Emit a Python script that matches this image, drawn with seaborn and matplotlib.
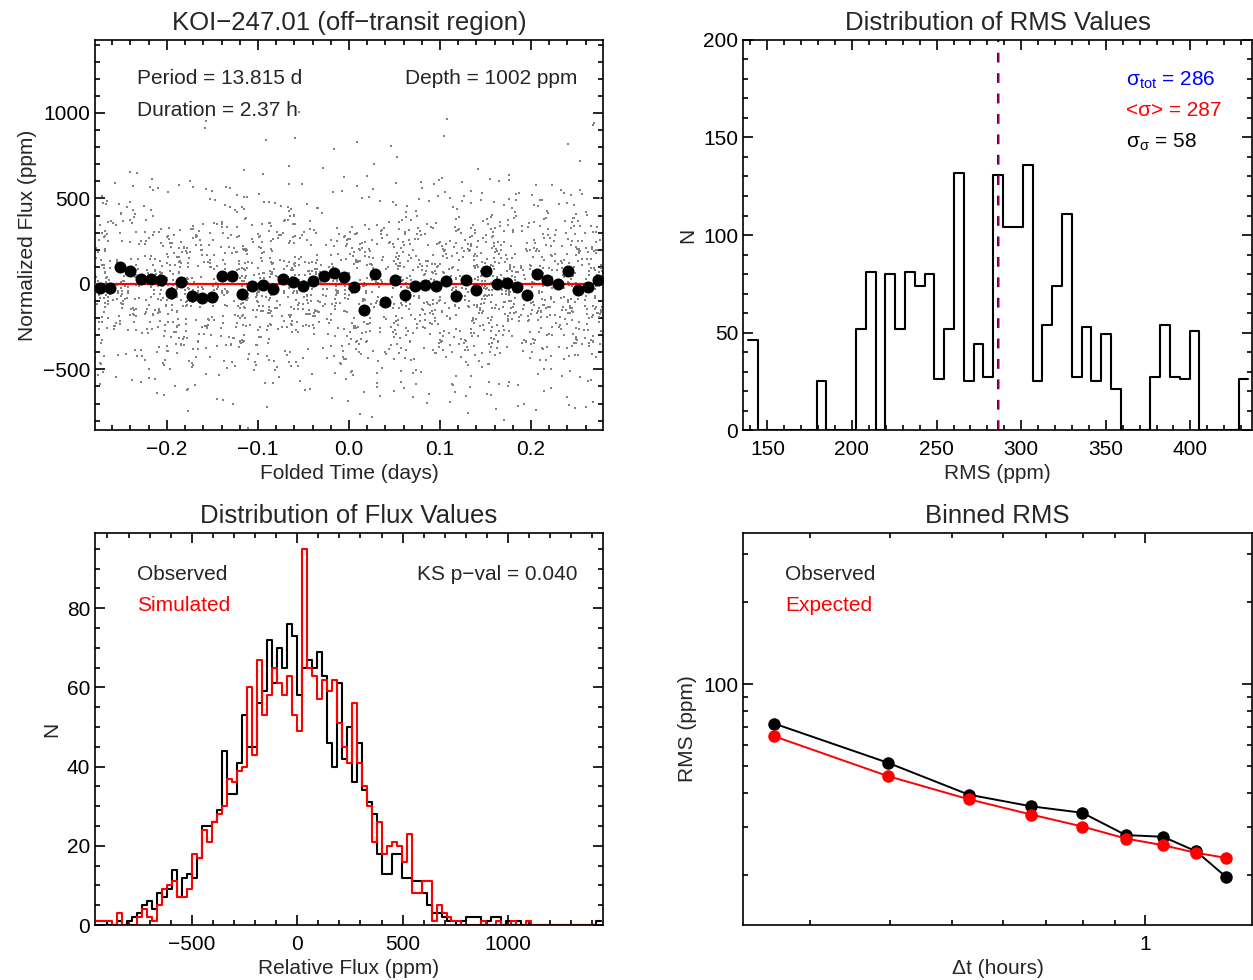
import numpy as np
import pandas as pd
import seaborn as sns
import matplotlib
matplotlib.use('Agg')
import matplotlib.pyplot as plt
from matplotlib.ticker import MultipleLocator, FixedLocator, FixedFormatter, NullFormatter

# ---- data ----
# binned light curve (folded time in days, flux in ppm)
bin_time = [-0.2736, -0.2626, -0.2516, -0.2403, -0.2289, -0.2179, -0.2070, -0.1956, -0.1843, -0.1729,
            -0.1619, -0.1505, -0.1396, -0.1282, -0.1172, -0.1062, -0.0949, -0.0839, -0.0725, -0.0615,
            -0.0502, -0.0392, -0.0278, -0.0165, -0.0055, 0.0059, 0.0168, 0.0282, 0.0392, 0.0502,
            0.0615, 0.0725, 0.0839, 0.0952, 0.1062, 0.1176, 0.1286, 0.1399, 0.1509, 0.1623,
            0.1733, 0.1846, 0.1956, 0.2070, 0.2179, 0.2293, 0.2407, 0.2516, 0.2630, 0.2740]
bin_flux = [-25, -25, 98, 74, 27, 27, 23, -55, 12, -68,
            -82, -76, 49, 45, -59, -12, -8, -27, 31, 12,
            -14, 14, 47, 66, 43, -16, -150, 57, -105, 23,
            -64, -14, -8, -14, 14, -68, 21, -33, 78, -2,
            4, -16, -66, 59, 20, 0, 74, -37, -16, 20]

# distribution of RMS values
rms_start = 138.5
rms_binw = 5.8
rms_counts = [46, 0, 0, 0, 0, 0, 0, 25, 0, 0,
              0, 52, 81, 0, 80, 52, 81, 74, 80, 26,
              52, 132, 25, 44, 27, 131, 104, 104, 136, 25,
              54, 74, 111, 27, 53, 25, 49, 21, 0, 0,
              0, 27, 54, 27, 26, 51, 0, 0, 0, 0, 26]
sigma_tot = 286
sigma_mean = 287
sigma_sigma = 58

# distribution of flux values, bins j = -40 ... 60
flux_binw = 23.65
flux_j0 = -40
obs_counts = [1, 1, 0, 0, 1, 0, 1, 2, 3, 5,
              6, 4, 8, 7, 9, 14, 7, 12, 13, 12,
              17, 25, 25, 26, 29, 44, 33, 33, 41, 53,
              45, 45, 56, 59, 72, 61, 70, 65, 76, 73,
              58, 65, 67, 65, 69, 63, 46, 40, 61, 42,
              50, 36, 46, 34, 31, 28, 18, 13, 13, 18,
              18, 12, 12, 11, 11, 8, 5, 3, 3, 2,
              1, 1, 0, 1, 2, 2, 2, 0, 1, 2,
              2, 0, 1, 0, 1, 0, 0, 0, 0, 0,
              0, 0, 0, 0, 0, 0, 0, 0, 0, 0, 1]
sim_counts = [1, 1, 1, 0, 3, 0, 0, 0, 2, 4,
              2, 1, 5, 9, 10, 11, 7, 7, 9, 18,
              17, 24, 21, 26, 28, 30, 37, 36, 39, 40,
              60, 43, 67, 53, 58, 65, 61, 58, 63, 53,
              49, 95, 65, 63, 57, 62, 59, 62, 51, 45,
              41, 56, 41, 35, 30, 21, 26, 18, 20, 21,
              20, 16, 23, 8, 8, 11, 11, 1, 5, 3,
              2, 1, 1, 0, 0, 0, 0, 1, 0, 0,
              1, 0, 0, 1, 0, 0, 1, 0, 0, 0,
              0, 0, 0, 0, 0, 0, 0, 0, 0, 0, 0]

# binned RMS
dt_hours = [0.264, 0.397, 0.531, 0.665, 0.799, 0.934, 1.068, 1.203, 1.338]
rms_obs = [71.8, 51.6, 39.4, 35.7, 33.8, 28.0, 27.6, 24.4, 19.7]
rms_exp = [64.5, 46.1, 37.9, 33.3, 30.1, 27.2, 25.7, 24.1, 23.1]

# ---- style ----
sns.set_style('ticks')
plt.rcParams['font.family'] = ['Liberation Sans', 'DejaVu Sans']
plt.rcParams['axes.linewidth'] = 1.2
plt.rcParams['axes.edgecolor'] = 'black'
FS = 15
TS = 18.5


def style_axes(ax):
    ax.tick_params(which='both', direction='in', top=True, right=True,
                   labelsize=FS, colors='black', width=1.2)
    ax.tick_params(which='major', length=7)
    ax.tick_params(which='minor', length=3.5)
    ax.tick_params(axis='x', which='both', pad=7)
    for s in ax.spines.values():
        s.set_visible(True)
        s.set_linewidth(1.2)


fig = plt.figure(figsize=(12.53, 9.8), dpi=100)
ax1 = fig.add_axes([0.0758, 0.5612, 0.4054, 0.398])
ax2 = fig.add_axes([0.593, 0.5612, 0.4062, 0.398])
ax3 = fig.add_axes([0.0758, 0.0561, 0.4054, 0.400])
ax4 = fig.add_axes([0.593, 0.0561, 0.4062, 0.400])

# ---- panel 1: folded light curve ----
edges = np.arange(flux_j0, flux_j0 + len(obs_counts) + 1) * flux_binw - 1.4
# point cloud: the observed flux histogram counts, spread over the time window
cloud_flux = np.concatenate([lo + (np.arange(c) + 0.5) / c * flux_binw
                             for lo, c in zip(edges[:-1], obs_counts) if c > 0])
k = np.arange(len(cloud_flux), dtype=float)
frac = (k * k * 0.6180339887 + k * 0.4142135624) % 1.0
cloud = pd.DataFrame({'time': -0.279 + frac * 0.558, 'flux': cloud_flux})
sns.scatterplot(data=cloud, x='time', y='flux', ax=ax1, color='#828282',
                s=2.8, linewidth=0, marker='s')
ax1.axhline(0, color='red', lw=1.6, zorder=3)
binned = pd.DataFrame({'time': bin_time, 'flux': bin_flux})
sns.scatterplot(data=binned, x='time', y='flux', ax=ax1, color='black',
                s=75, linewidth=0, zorder=4)
ax1.set_xlim(-0.279, 0.279)
ax1.set_ylim(-855, 1427)
ax1.xaxis.set_minor_locator(MultipleLocator(0.02))
ax1.yaxis.set_minor_locator(MultipleLocator(100))
ax1.set_xticks([-0.2, -0.1, 0.0, 0.1, 0.2])
ax1.set_xticklabels(['\u22120.2', '\u22120.1', '0.0', '0.1', '0.2'])
ax1.set_yticks([-500, 0, 500, 1000])
ax1.set_yticklabels(['\u2212500', '0', '500', '1000'])
ax1.set_xlabel('Folded Time (days)', fontsize=FS)
ax1.set_ylabel('Normalized Flux (ppm)', fontsize=FS)
ax1.set_title('KOI\u2212247.01 (off\u2212transit region)', fontsize=TS, pad=7)
ax1.text(0.083, 0.90, 'Period = 13.815 d', transform=ax1.transAxes, fontsize=FS, va='center')
ax1.text(0.083, 0.818, 'Duration = 2.37 h', transform=ax1.transAxes, fontsize=FS, va='center')
ax1.text(0.949, 0.90, 'Depth = 1002 ppm', transform=ax1.transAxes, fontsize=FS,
         va='center', ha='right')
style_axes(ax1)

# ---- panel 2: RMS distribution ----
rms_centers = rms_start + (np.arange(len(rms_counts)) + 0.5) * rms_binw
rms_df = pd.DataFrame({'rms': rms_centers, 'n': rms_counts})
sns.histplot(data=rms_df, x='rms', weights='n', binwidth=rms_binw,
             binrange=(rms_start, rms_start + len(rms_counts) * rms_binw),
             element='step', fill=False, color='black', linewidth=1.5, ax=ax2)
ax2.axvline(sigma_tot, color='blue', lw=1.4, ls=(0, (5.0, 5.5)))
ax2.axvline(sigma_mean, color='red', lw=1.4, ls=(0, (5.0, 5.5)), alpha=0.6)
ax2.set_xlim(135.6, 436.4)
ax2.set_ylim(0, 200)
ax2.xaxis.set_major_locator(MultipleLocator(50))
ax2.xaxis.set_minor_locator(MultipleLocator(10))
ax2.yaxis.set_major_locator(MultipleLocator(50))
ax2.yaxis.set_minor_locator(MultipleLocator(10))
ax2.set_xlabel('RMS (ppm)', fontsize=FS)
ax2.set_ylabel('N', fontsize=FS)
ax2.set_title('Distribution of RMS Values', fontsize=TS, pad=7)
ax2.text(0.752, 0.897, r'$\mathregular{\sigma_{tot}}$ = %d' % sigma_tot, transform=ax2.transAxes,
         fontsize=FS, va='center', color='blue')
ax2.text(0.752, 0.818, '<\u03c3> = %d' % sigma_mean, transform=ax2.transAxes,
         fontsize=FS, va='center', color='red')
ax2.text(0.752, 0.738, r'$\mathregular{\sigma_{\sigma}}$ = %d' % sigma_sigma, transform=ax2.transAxes,
         fontsize=FS, va='center', color='black')
style_axes(ax2)

# ---- panel 3: flux distribution ----
centers = edges[:-1] + flux_binw / 2
obs_df = pd.DataFrame({'flux': centers, 'n': obs_counts})
sim_df = pd.DataFrame({'flux': centers, 'n': sim_counts})
for df, col in [(obs_df, 'black'), (sim_df, 'red')]:
    sns.histplot(data=df, x='flux', weights='n', binwidth=flux_binw,
                 binrange=(edges[0], edges[-1]), element='step', fill=False,
                 color=col, linewidth=1.5, ax=ax3)
ax3.set_xlim(-959, 1450)
ax3.set_ylim(0, 99)
ax3.set_xticks([-500, 0, 500, 1000])
ax3.set_xticklabels(['\u2212500', '0', '500', '1000'])
ax3.xaxis.set_minor_locator(MultipleLocator(100))
ax3.yaxis.set_major_locator(MultipleLocator(20))
ax3.yaxis.set_minor_locator(MultipleLocator(5))
ax3.set_xlabel('Relative Flux (ppm)', fontsize=FS)
ax3.set_ylabel('N', fontsize=FS)
ax3.set_title('Distribution of Flux Values', fontsize=TS, pad=7)
ax3.text(0.083, 0.895, 'Observed', transform=ax3.transAxes, fontsize=FS, va='center')
ax3.text(0.083, 0.816, 'Simulated', transform=ax3.transAxes, fontsize=FS, va='center', color='red')
ax3.text(0.949, 0.895, 'KS p\u2212val = 0.040', transform=ax3.transAxes, fontsize=FS,
         va='center', ha='right')
style_axes(ax3)

# ---- panel 4: binned RMS ----
brms = pd.DataFrame({'dt': dt_hours * 2, 'rms': rms_obs + rms_exp,
                     'kind': ['Observed'] * len(dt_hours) + ['Expected'] * len(dt_hours)})
sns.lineplot(data=brms, x='dt', y='rms', hue='kind', palette={'Observed': 'black', 'Expected': 'red'},
             marker='o', markersize=9, markeredgewidth=0, linewidth=1.4, legend=False, ax=ax4)
ax4.set_xscale('log')
ax4.set_yscale('log')
ax4.set_xlim(0.236, 1.47)
ax4.set_ylim(13.1, 359)
ax4.xaxis.set_major_locator(FixedLocator([1]))
ax4.xaxis.set_major_formatter(FixedFormatter(['1']))
ax4.xaxis.set_minor_locator(FixedLocator([0.3, 0.4, 0.5, 0.6, 0.7, 0.8, 0.9]))
ax4.xaxis.set_minor_formatter(NullFormatter())
ax4.yaxis.set_major_locator(FixedLocator([100]))
ax4.yaxis.set_major_formatter(FixedFormatter(['100']))
ax4.yaxis.set_minor_locator(FixedLocator([20, 30, 40, 50, 60, 70, 80, 90, 200, 300]))
ax4.yaxis.set_minor_formatter(NullFormatter())
ax4.set_xlabel('\u0394t (hours)', fontsize=FS)
ax4.set_ylabel('RMS (ppm)', fontsize=FS)
ax4.set_title('Binned RMS', fontsize=TS, pad=7)
ax4.text(0.0825, 0.895, 'Observed', transform=ax4.transAxes, fontsize=FS, va='center')
ax4.text(0.0825, 0.816, 'Expected', transform=ax4.transAxes, fontsize=FS, va='center', color='red')
style_axes(ax4)

fig.savefig('out.png', dpi=100)
